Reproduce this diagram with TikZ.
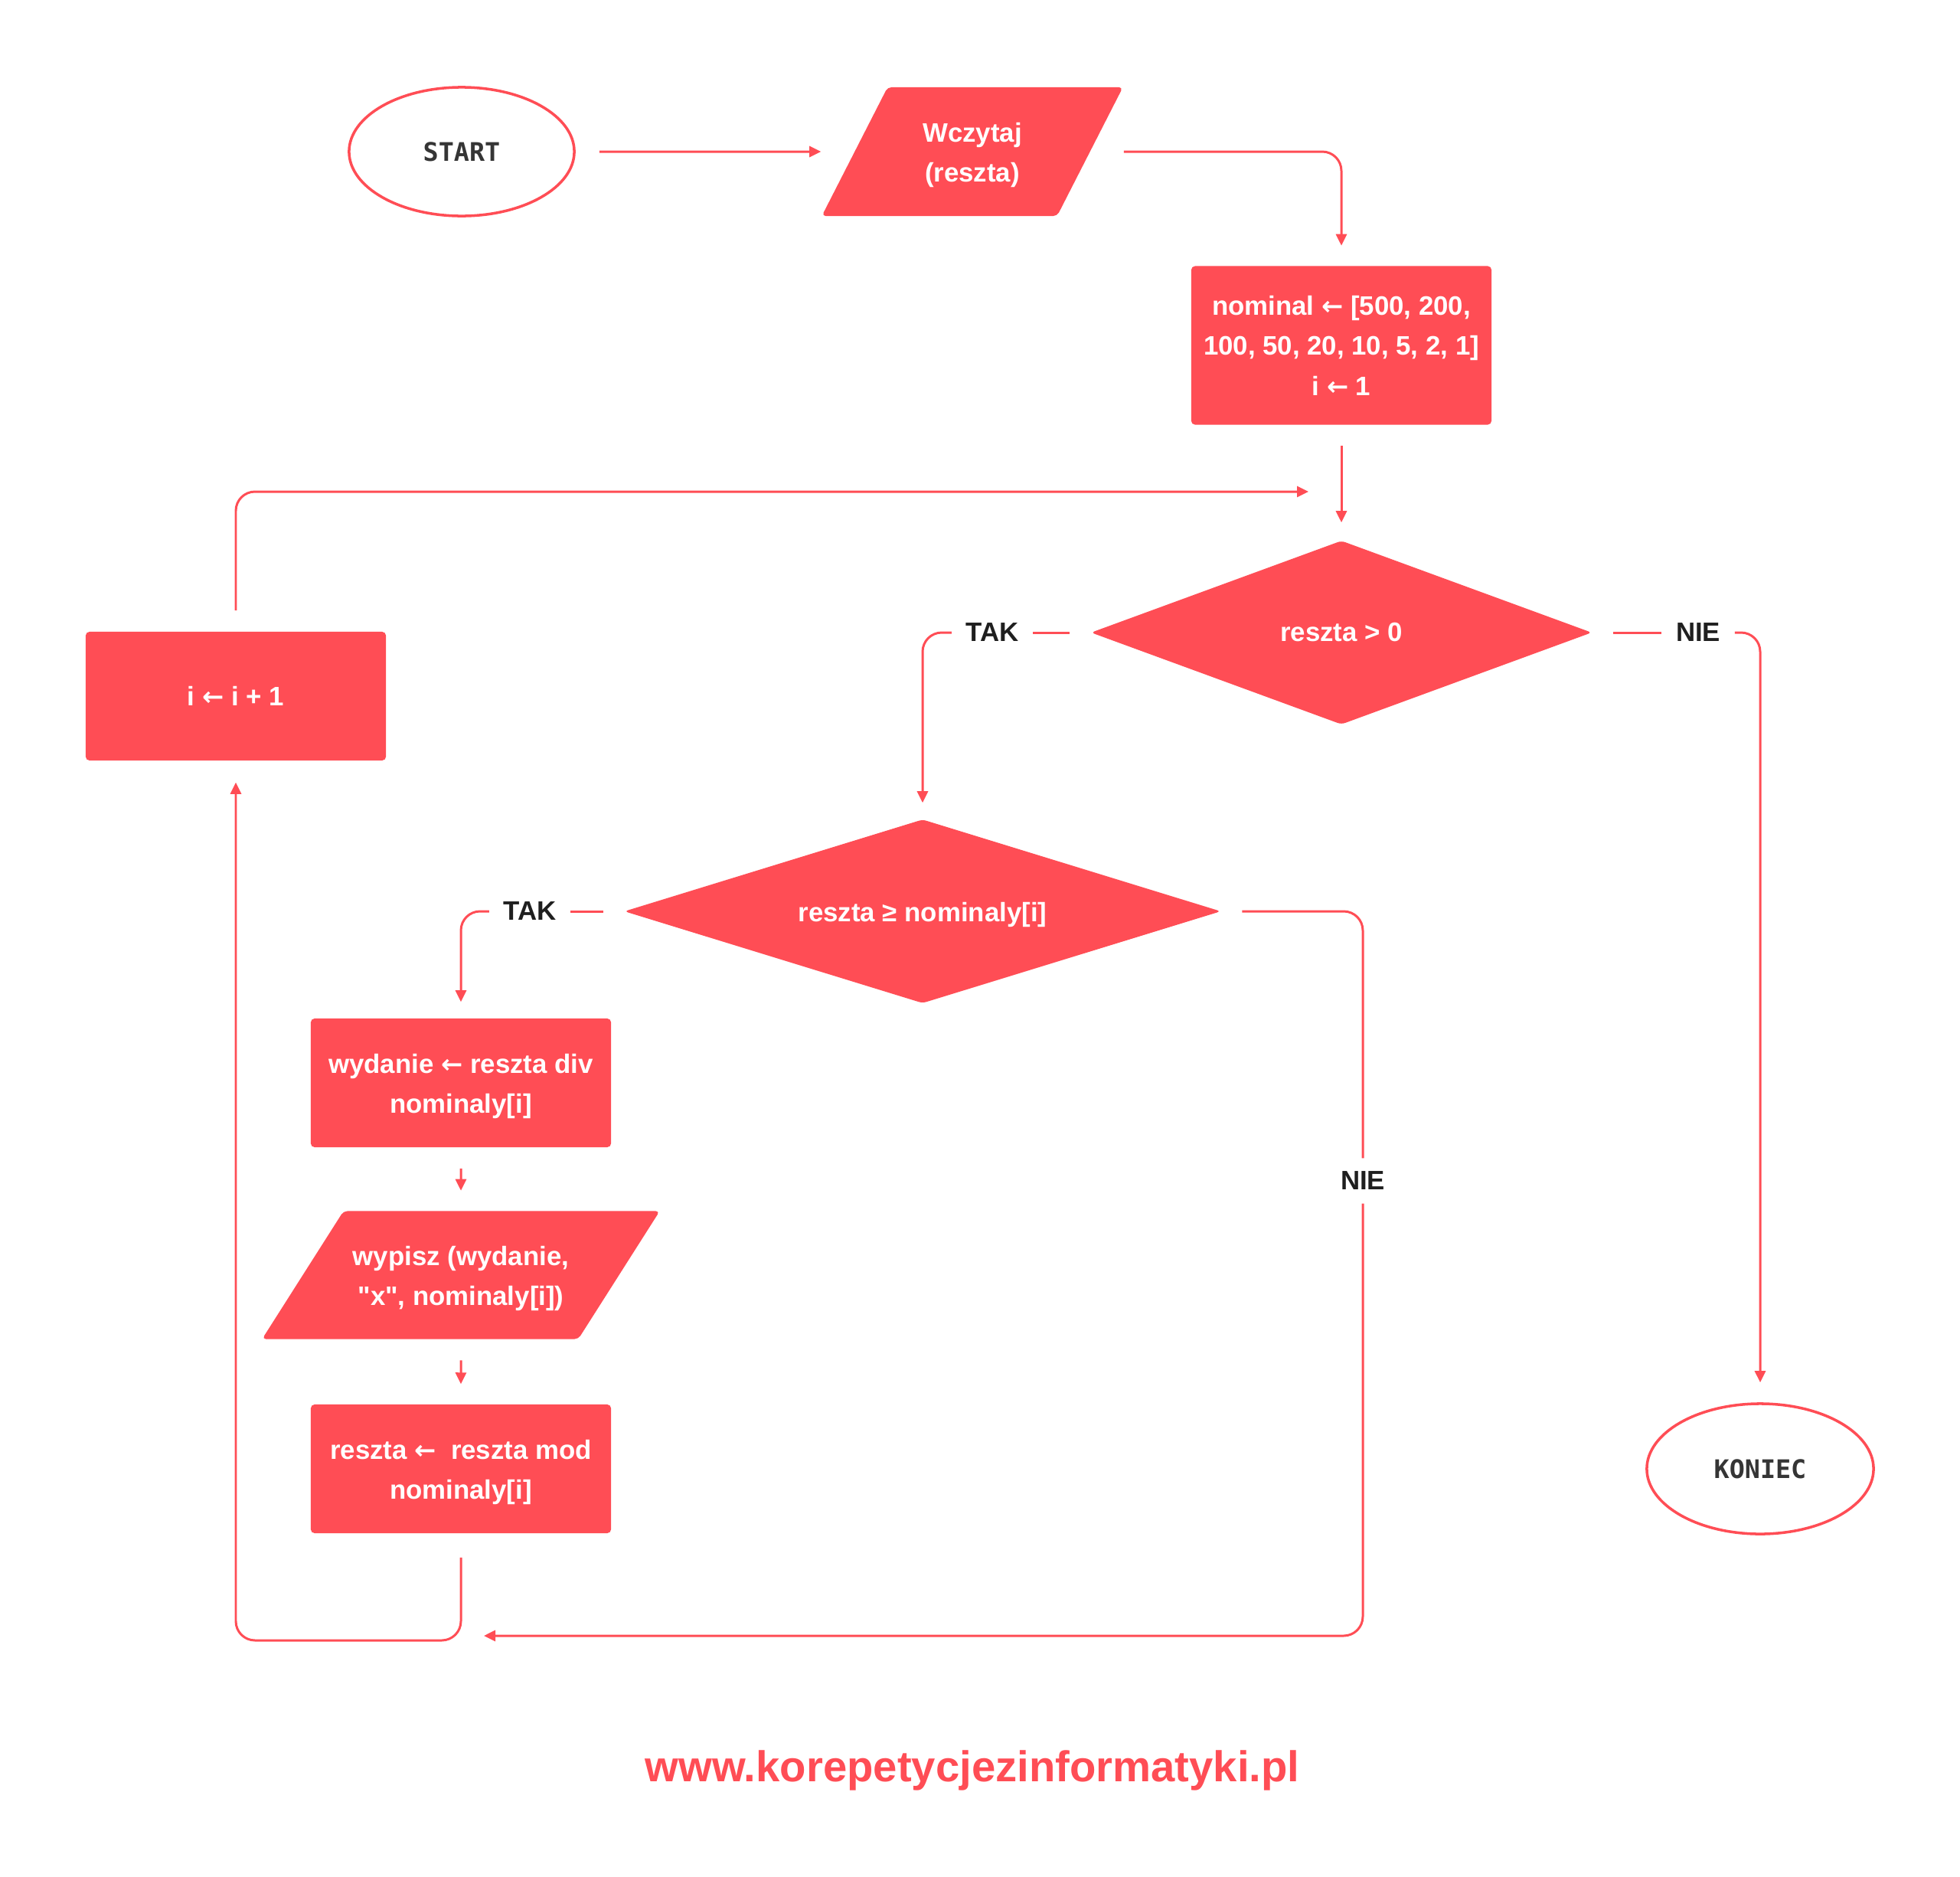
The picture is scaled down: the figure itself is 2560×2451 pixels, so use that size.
\documentclass[tikz,border=0pt]{standalone}
\usepackage{fontspec}
\setmainfont{Liberation Sans}[Ligatures=TeXOff]
\setmonofont{DejaVu Sans Mono}
\newfontfamily\arrowfont{DejaVu Sans}
\newcommand{\lewo}{{\arrowfont\fontsize{9.6}{14.8}\selectfont ←}}
\newcommand{\gora}{\rule{0pt}{9.6pt}}
\usetikzlibrary{arrows.meta,shapes.geometric}
\definecolor{flowred}{HTML}{FF4D55}
\definecolor{flowink}{HTML}{1F1F1F}
\tikzset{
	box/.style={rectangle, fill=flowred, rounded corners=0.05cm, minimum width=3.92cm, minimum height=1.68cm, inner sep=0pt, align=center, text=white, font=\fontsize{9.9}{14.9}\selectfont\bfseries},
	iobox/.style={box, trapezium, trapezium stretches body=true},
	choice/.style={box, diamond, shape aspect=3},
	terminal/.style={ellipse, draw=flowred, line width=1pt, minimum width=2.94cm, minimum height=1.68cm, inner sep=0pt, text=flowink!90, font=\fontsize{9.5}{12}\selectfont\ttfamily\bfseries},
	answer/.style={inner xsep=0.18cm, inner ysep=0.17cm, text=flowink, font=\fontsize{9.9}{12}\selectfont\bfseries},
	link/.style={draw=flowred, line width=0.85pt, rounded corners=0.25cm},
	flow/.style={link, -{Triangle[length=0.15cm,width=0.14cm]}},
	gapa/.style={shorten <=0.27cm},
	gapb/.style={shorten >=0.26cm}
}
\begin{document}
\begin{tikzpicture}[x=0.01cm,y=-0.01cm]
		\useasboundingbox (0,0) rectangle (2560,2451);
		\node[terminal] (start) at (603,198) {START};
		\node[iobox, trapezium left angle=47.4, trapezium right angle=132.6, minimum width=3.93cm, minimum height=1.68cm] (wczytaj) at (1270,198) {\gora Wczytaj\\(reszta)};
		\node[box, minimum height=2.07cm] (nominal) at (1752,451) {nominal \lewo{} [500, 200,\\100, 50, 20, 10, 5, 2, 1]\\i \lewo{} 1};
		\node[choice, minimum width=6.54cm, minimum height=2.40cm] (wiekszy) at (1752,826) {reszta > 0};
		\node[choice, minimum width=7.79cm, minimum height=2.40cm] (dzielny) at (1205,1190) {\gora reszta ≥ nominaly[i]};
		\node[box] (licznik) at (308,909) {i \lewo{} i + 1};
		\node[box] (wydanie) at (602,1414) {\gora wydanie \lewo{} reszta div\\nominaly[i]};
		\node[iobox, trapezium left angle=41.3, trapezium right angle=138.7, minimum width=5.19cm, minimum height=1.67cm] (wypisz) at (602,1665) {\gora wypisz (wydanie,\\"x", nominaly[i])};
		\node[box] (modulo) at (602,1918) {\gora reszta \lewo{}~~reszta mod\\nominaly[i]};
		\node[terminal, minimum width=2.96cm, minimum height=1.70cm] (koniec) at (2299,1918) {KONIEC};
		\node[answer] (takgora) at (1296,826) {TAK};
		\node[answer] (niegora) at (2218,826) {NIE};
		\node[answer] (takdol) at (692,1190) {TAK};
		\node[answer] (niedol) at (1780,1542) {NIE};
		\node[text=flowred, font=\fontsize{16}{20}\selectfont\bfseries] (strona) at (1270,2312) {www.korepetycjezinformatyki.pl};
		\coordinate (scalenie) at (1709,642);
		\coordinate (powrot) at (632,2136);
		\coordinate (narozny) at (308,2142);
		\draw[flow, shorten <=0.31cm] (start.east) -- (wczytaj.bottom left corner |- wczytaj.west);
		\draw[flow, gapb] (wczytaj.top right corner |- wczytaj.east) -| (nominal.north);
		\draw[flow, gapa, shorten >=0.23cm] (nominal.south) -- (wiekszy.north);
		\draw[link, gapa] (wiekszy.west) -- (takgora.east);
		\draw[flow, shorten >=0.21cm] (takgora.west) -| (dzielny.north);
		\draw[link, gapa] (wiekszy.east) -- (niegora.west);
		\draw[flow, gapb] (niegora.east) -| (koniec.north);
		\draw[link, gapa] (dzielny.west) -- (takdol.east);
		\draw[flow, shorten >=0.21cm] (takdol.west) -| (wydanie.north);
		\draw[flow, gapa, gapb] (wydanie.south) -- (wypisz.north);
		\draw[flow, gapa, gapb] (wypisz.south) -- (modulo.north);
		\draw[flow, shorten <=0.31cm, shorten >=0.28cm] (modulo.south) |- (narozny) -- (licznik.south);
		\draw[flow, gapa] (licznik.north) |- (scalenie);
		\draw[link, gapa] (dzielny.east) -| (niedol.north);
		\draw[flow] (niedol.south) |- (powrot);
\end{tikzpicture}
\end{document}
